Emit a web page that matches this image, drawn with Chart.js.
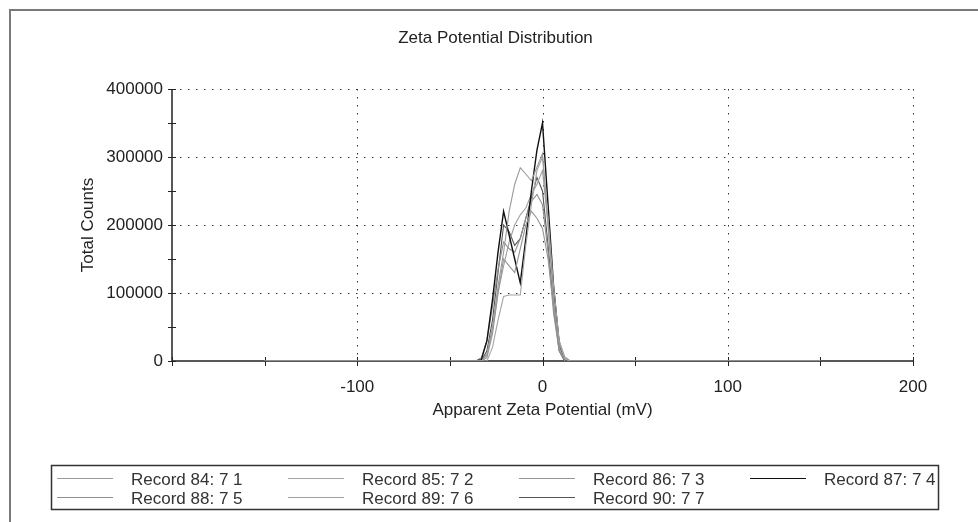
<!DOCTYPE html>
<html>
<head>
<meta charset="utf-8">
<script src="https://cdn.jsdelivr.net/npm/chart.js@4.4.1/dist/chart.umd.min.js"></script>
<style>
    body { margin: 0; background: #fff; }
    canvas { display: block; }
</style>
</head>
<body>
<canvas id="zetaChart" width="978" height="522"></canvas>
<script>
// Zeta potential (mV) sample points shared by all records
const zeta = [-150, -39, -36, -33, -30, -27, -24, -21, -18, -15, -12, -9, -6, -3, 0, 3, 6, 9, 12, 15, 150];

// Total counts per record
const rec84 = [0, 0, 0, 0, 10000, 50000, 110000, 160000, 220000, 260000, 284000, 275000, 265000, 285000, 305000, 200000, 90000, 20000, 0, 0, 0];
const rec85 = [0, 0, 0, 0, 0, 20000, 60000, 95000, 97000, 97000, 97000, 170000, 230000, 280000, 300000, 210000, 110000, 30000, 3000, 0, 0];
const rec86 = [0, 0, 0, 0, 5000, 40000, 100000, 150000, 140000, 130000, 165000, 200000, 220000, 210000, 195000, 150000, 80000, 25000, 5000, 0, 0];
const rec87 = [0, 0, 0, 2000, 30000, 90000, 160000, 220000, 185000, 150000, 115000, 180000, 250000, 310000, 350000, 230000, 110000, 25000, 0, 0, 0];
const rec88 = [0, 0, 0, 5000, 30000, 80000, 135000, 175000, 165000, 160000, 180000, 210000, 235000, 245000, 230000, 160000, 70000, 15000, 0, 0, 0];
const rec89 = [0, 0, 0, 0, 8000, 45000, 100000, 140000, 175000, 200000, 215000, 225000, 245000, 260000, 280000, 200000, 100000, 30000, 6000, 0, 0];
const rec90 = [0, 0, 0, 0, 15000, 60000, 130000, 200000, 190000, 170000, 180000, 210000, 240000, 270000, 250000, 170000, 80000, 15000, 0, 0, 0];

const recordLabels = ['Record 84: 7 1', 'Record 85: 7 2', 'Record 86: 7 3', 'Record 87: 7 4',
                      'Record 88: 7 5', 'Record 89: 7 6', 'Record 90: 7 7'];
const recordValues = [rec84, rec85, rec86, rec87, rec88, rec89, rec90];
const recordColors = ['#9a9a9a', '#a4a4a4', '#959595', '#111111', '#8e8e8e', '#a0a0a0', '#555555'];

const xGridValues = [-100, 0, 100, 200];
const yGridValues = [100000, 200000, 300000, 400000];

const FONT = 'Liberation Sans, Arial, sans-serif';
const FONT_SIZE = 17;

// Фон, рамка, пунктирна сітка та осі з рисками
const framePlugin = {
    id: 'frame',
    beforeDraw(chart) {
        const ctx = chart.ctx;
        ctx.save();
        ctx.fillStyle = '#fff';
        ctx.fillRect(0, 0, chart.width, chart.height);
        ctx.strokeStyle = '#7a7a7a';
        ctx.lineWidth = 2;
        ctx.beginPath();
        ctx.moveTo(10, chart.height);
        ctx.lineTo(10, 10);
        ctx.lineTo(chart.width, 10);
        ctx.stroke();
        ctx.restore();
    },
    beforeDatasetsDraw(chart) {
        const ctx = chart.ctx;
        const x = chart.scales.x, y = chart.scales.y;
        const a = chart.chartArea;
        ctx.save();
        ctx.strokeStyle = '#333';
        ctx.lineWidth = 1;
        ctx.setLineDash([1.5, 6.5]);
        yGridValues.forEach(v => {
            const py = Math.round(y.getPixelForValue(v)) + 0.5;
            ctx.beginPath();
            ctx.moveTo(a.left, py);
            ctx.lineTo(a.right, py);
            ctx.stroke();
        });
        xGridValues.forEach(v => {
            const px = Math.round(x.getPixelForValue(v)) + 0.5;
            ctx.beginPath();
            ctx.moveTo(px, a.top);
            ctx.lineTo(px, a.bottom);
            ctx.stroke();
        });
        ctx.setLineDash([]);

        // осі
        ctx.strokeStyle = '#222';
        ctx.lineWidth = 1.5;
        ctx.beginPath();
        ctx.moveTo(a.left, a.top);
        ctx.lineTo(a.left, a.bottom);
        ctx.lineTo(a.right, a.bottom);
        ctx.stroke();

        // риски
        ctx.lineWidth = 1;
        for (let v = 0; v <= 400000; v += 50000) {
            const py = Math.round(y.getPixelForValue(v)) + 0.5;
            ctx.beginPath();
            ctx.moveTo(a.left - 4, py);
            ctx.lineTo(a.left + 4, py);
            ctx.stroke();
        }
        for (let v = -200; v <= 200; v += 50) {
            const px = Math.round(x.getPixelForValue(v)) + 0.5;
            ctx.beginPath();
            ctx.moveTo(px, a.bottom - 4);
            ctx.lineTo(px, a.bottom + 5);
            ctx.stroke();
        }
        ctx.restore();
    }
};

// Легенда в рамці під графіком
const boxLegendPlugin = {
    id: 'boxLegend',
    afterDraw(chart) {
        const ctx = chart.ctx;
        ctx.save();
        ctx.strokeStyle = '#333';
        ctx.lineWidth = 1.5;
        ctx.strokeRect(51.5, 465.5, 887, 44);
        ctx.font = FONT_SIZE + 'px ' + FONT;
        ctx.textBaseline = 'middle';
        ctx.textAlign = 'left';
        chart.data.datasets.forEach((ds, i) => {
            const col = i % 4, row = Math.floor(i / 4);
            const x0 = 57 + col * 231;
            const yy = 478.5 + row * 19;
            ctx.strokeStyle = ds.borderColor;
            ctx.lineWidth = 1.2;
            ctx.beginPath();
            ctx.moveTo(x0, yy);
            ctx.lineTo(x0 + 56, yy);
            ctx.stroke();
            ctx.fillStyle = '#333';
            ctx.fillText(ds.label, x0 + 74, yy + 1.5);
        });
        ctx.restore();
    }
};

new Chart(document.getElementById('zetaChart'), {
    type: 'line',
    data: {
        datasets: recordLabels.map((label, i) => ({
            label: label,
            data: zeta.map((z, k) => ({ x: z, y: recordValues[i][k] })),
            borderColor: recordColors[i],
            borderWidth: i === 3 ? 1.4 : 1.1,
            pointRadius: 0,
            tension: 0,
            fill: false
        }))
    },
    options: {
        responsive: false,
        animation: false,
        layout: { padding: { left: 78, right: 65, top: 0, bottom: 101 } },
        plugins: {
            legend: { display: false },
            tooltip: { enabled: false },
            title: {
                display: true,
                text: 'Zeta Potential Distribution',
                color: '#222',
                font: { family: FONT, size: FONT_SIZE, weight: 'normal' },
                padding: { top: 27.8, bottom: 40.8 }
            }
        },
        scales: {
            x: {
                type: 'linear',
                min: -200,
                max: 200,
                grid: { display: false },
                border: { display: false },
                afterFit: s => { s.height = 60; },
                ticks: {
                    stepSize: 100,
                    padding: 8,
                    color: '#222',
                    font: { family: FONT, size: FONT_SIZE },
                    callback: v => (v === -200 ? '' : v)
                },
                title: {
                    display: true,
                    text: 'Apparent Zeta Potential (mV)',
                    color: '#222',
                    font: { family: FONT, size: FONT_SIZE },
                    padding: { top: 0, bottom: 0 }
                }
            },
            y: {
                min: 0,
                max: 400000,
                grid: { display: false, drawTicks: false },
                border: { display: false },
                afterFit: s => { s.width = 94; },
                ticks: {
                    stepSize: 100000,
                    padding: 9,
                    color: '#222',
                    font: { family: FONT, size: FONT_SIZE },
                    callback: v => String(v)
                },
                title: {
                    display: true,
                    text: 'Total Counts',
                    color: '#222',
                    font: { family: FONT, size: FONT_SIZE },
                    padding: 0
                }
            }
        }
    },
    plugins: [framePlugin, boxLegendPlugin]
});
</script>
</body>
</html>
